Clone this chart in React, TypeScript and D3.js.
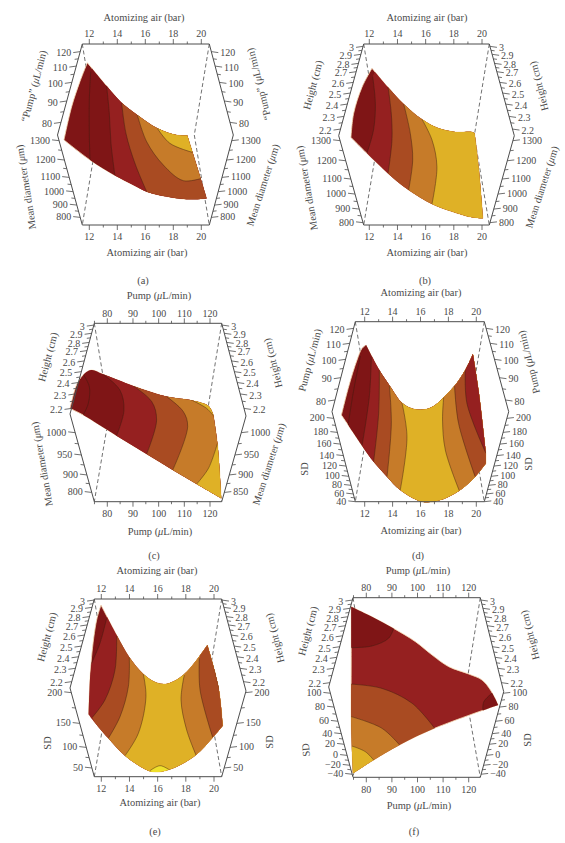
import React from "react";
import * as d3 from "d3";

type P = [number, number];

// ---------- axis tick values ----------
const airTicks = [12, 14, 16, 18, 20];
const pumpTicks = [80, 90, 100, 110, 120];
const pumpAxis = [120, 110, 100, 90, 80];
const heightAxis = [3, 2.9, 2.8, 2.7, 2.6, 2.5, 2.4, 2.3, 2.2];
const diameterAxis = [1300, 1200, 1100, 1000, 900, 800];
const diameterC = [1000, 950, 900, 800];
const diameterCRight = [1000, 950, 900, 850];
const sdAxisD = [200, 180, 160, 140, 120, 100, 80, 60, 40];
const sdAxisE = [200, 150, 100, 50];
const sdAxisF = [100, 80, 60, 40, 20, 0, -20, -40];

// ---------- surfaces: [horizontal factor value, share of plot height %] ----------
const surfaceA: P[][] = [
  [[11.86, 89.7], [13.24, 76.8], [14.31, 67.6], [15.43, 60.8], [16.86, 53.4], [18.24, 49.7], [19.0, 49.5]],
  [[19.0, 49.5], [19.38, 40.1], [19.95, 25.8], [20.38, 14.7]],
  [[20.38, 14.7], [18.95, 14.2], [17.52, 15.7], [16.1, 18.4], [15.14, 22.1], [13.83, 27.3], [12.05, 35.9], [10.19, 47.0]],
  [[10.19, 47.0], [10.74, 65.4], [11.33, 79.2], [11.86, 89.7]],
];
const contoursA: P[][] = [
  [[12.1, 84.7], [12.0, 69.1], [12.0, 50.6], [12.05, 35.9]],
  [[13.24, 76.8], [13.43, 61.7], [13.55, 45.1], [13.83, 27.3]],
  [[14.31, 67.6], [14.62, 50.6], [15.26, 34.1], [16.1, 18.4]],
  [[15.43, 60.8], [16.1, 46], [17.29, 33.1], [18.71, 24.5], [20.02, 25.8]],
  [[16.86, 53.4], [17.76, 45.1], [19.38, 40.1]],
];

const surfaceB: P[][] = [
  [[12.19, 86.6], [13.33, 76.1], [14.44, 66.9], [15.74, 58.4], [16.92, 53.4], [18.11, 51.4], [19.29, 51.4], [19.48, 50.6]],
  [[19.48, 50.6], [19.76, 32.2], [20.07, 3.7]],
  [[20.07, 3.7], [19.05, 4.6], [17.87, 7.4], [16.45, 11.6], [14.79, 19.3], [13.33, 28.5], [11.83, 39.6], [10.7, 48.4]],
  [[10.7, 48.4], [10.89, 61.7], [11.48, 76.1], [12.19, 86.6]],
];
const contoursB: P[][] = [
  [[12.24, 82], [12.43, 67.2], [12.3, 52.5], [11.83, 39.6]],
  [[13.33, 76.1], [13.56, 61.7], [13.61, 47], [13.33, 28.5]],
  [[14.44, 66.9], [14.91, 50.6], [15.08, 35.9], [14.79, 19.3]],
  [[15.74, 58.4], [16.45, 47], [16.8, 32.2], [16.45, 11.6]],
];

const surfaceC: P[][] = [
  [[65.5, 52.3], [68.3, 66.4], [71.3, 72], [73.9, 73.8], [78.4, 71.4], [90.1, 64.9], [103.1, 58.9], [113.5, 56.6], [119.4, 53.6], [121.3, 48.6]],
  [[121.3, 48.6], [122.9, 32.7], [124.4, 1.9]],
  [[124.4, 1.9], [114.8, 9.9], [105.5, 17.8], [95.3, 26.7], [83.6, 37], [70.6, 48.6], [65.5, 52.3]],
];
const contoursC: P[][] = [
  [[70.6, 71.4], [73, 64.5], [72.6, 55.1], [70.6, 48.6]],
  [[78.4, 71.4], [84.9, 62.6], [86.5, 51.4], [83.6, 37]],
  [[90.1, 64.9], [97.3, 56.1], [99.2, 45.8], [95.3, 26.7]],
  [[103.1, 58.9], [109.6, 50.5], [111.3, 42.1], [105.5, 17.8]],
  [[122.9, 32.7], [119.4, 18.7], [114.8, 9.9]],
  [[112.2, 57.4], [118.7, 52.3], [121.6, 47.7]],
];

const surfaceD: P[][] = [
  [[12.1, 87], [13.05, 73.1], [13.84, 63.9], [14.67, 55], [15.51, 51.5], [16.34, 51.3], [17.06, 53.7], [17.66, 58], [18.49, 64.8], [19.21, 73.1], [19.76, 82]],
  [[19.76, 82], [20.16, 62], [20.69, 26.9]],
  [[20.69, 26.9], [20.69, 21.3]],
  [[20.69, 21.3], [19.92, 13.9], [18.78, 6.1], [17.3, 0.6], [16.1, 0], [14.55, 6.5], [13.6, 13.9], [12.64, 22.2], [11.81, 31.1], [10.81, 42.6], [10.33, 48.1]],
  [[10.33, 48.1], [10.85, 63.9], [11.45, 78.7], [11.81, 85.2], [12.1, 87]],
];
const contoursD: P[][] = [
  [[11.69, 80.9], [11.21, 62], [10.81, 42.6]],
  [[12.48, 80.2], [12.33, 58.3], [11.81, 31.1]],
  [[13.05, 73.1], [13, 49.1], [12.64, 22.2]],
  [[13.77, 64.3], [13.91, 43.5], [13.6, 13.9]],
  [[14.67, 55], [15.03, 36.1], [14.55, 6.5]],
  [[17.66, 58], [17.58, 45.4], [17.78, 28.7], [18.78, 6.1]],
  [[18.44, 64.3], [18.73, 43.5], [19.92, 13.9]],
  [[19.21, 73.1], [19.33, 54.6], [20.69, 26.9]],
];

const surfaceE: P[][] = [
  [[11.98, 96.6], [13.09, 79.7], [13.99, 67.2], [14.98, 57.8], [15.93, 52.9], [16.76, 52.5], [17.82, 57.2], [18.77, 65.7], [19.53, 74.1]],
  [[19.53, 74.1], [20.31, 50.7], [20.62, 28.7]],
  [[20.62, 28.7], [19.91, 22.1], [18.72, 12.2], [17.35, 5.6], [16.4, 3], [15.93, 2.6], [15.34, 3.4], [13.68, 11.8], [12.5, 21.6], [11.31, 32.8], [11.1, 35.1]],
  [[11.1, 35.1], [11.15, 46.9], [11.31, 67.5], [11.67, 88.2], [11.98, 96.6]],
];
const contoursE: P[][] = [
  [[12.38, 89.1], [11.9, 75], [11.31, 63.8]],
  [[13.09, 79.2], [12.97, 60], [12.26, 43.2], [11.36, 33.4]],
  [[13.99, 67.2], [13.92, 50.7], [13.33, 33.8], [12.5, 21.6]],
  [[14.98, 57.8], [15.17, 45], [14.63, 24.4], [13.68, 11.8]],
  [[17.89, 57.2], [17.66, 43.2], [18.06, 26.3], [18.72, 12.2]],
  [[18.96, 66.6], [19.01, 48.8], [19.91, 22.1]],
  [[19.72, 71.3], [20.03, 60.8], [20.38, 48.8]],
  [[15.46, 3.4], [16.17, 6.2], [16.92, 3.4]],
];

const surfaceF: P[][] = [
  [[74.1, 95], [82.2, 89.4], [90.7, 82.9], [99.2, 75.5], [105.7, 68.1], [112.2, 61.6], [120, 57.5], [125.2, 54.2], [128.5, 48.6], [131.5, 40.3]],
  [[131.5, 40.3], [106.7, 27.3], [93, 18], [82.9, 9.6], [74.8, 2.2]],
  [[74.8, 2.2], [74.1, 28.2], [74.1, 65.3], [74.1, 95]],
];
const contoursF: P[][] = [
  [[74.1, 72.2], [82.2, 73.1], [88.7, 77.4], [90.7, 82.9]],
  [[129.1, 46.8], [125.9, 42.1], [125.5, 37.5]],
  [[74.1, 51.9], [86.1, 49.5], [97.9, 41.2], [106.7, 27.3]],
  [[74.1, 33.8], [86.1, 27.3], [93, 18]],
  [[74.4, 17.4], [79.6, 14.3], [82.9, 9.6]],
];

// ---------- styling ----------
const palette = {
  dark: "#7f1516",
  red: "#952020",
  brown: "#a94b22",
  orange: "#c67b29",
  yellow: "#dfb126",
  bright: "#efe02c",
};
type Lvl = keyof typeof palette;
type Corner = "TL" | "TR" | "BL" | "BR";
const R: Corner[] = ["BR", "TR"];
const UP: Corner[] = ["TR"];
const WRAP: Corner[] = ["BL", "BR", "TR"];

// tick positions along the hexagon's slanted axes, % of plot height (axes are non-linear)
const heightPctB = [98.7, 94.3, 89.3, 84.7, 78.8, 72.9, 66.8, 60, 53];
const heightPctC = [99, 94.4, 89.3, 84.7, 78.9, 72.9, 66.8, 60.4, 52.3];
const heightPctE = [99.4, 95.3, 90.1, 85.4, 79.7, 73.5, 67.5, 61, 53.5];
const heightPctF = [98.7, 94.1, 89.4, 84.4, 78.8, 72.7, 66.8, 60.7, 52.7];

interface Axis { values: number[]; pct: number[] }
interface Title { text: string; x: number; y: number; rotate: number }
interface Panel {
  id: string; top: number; bottom: number; x0: number; x1: number;
  lv: P; rv: P; x12: [number, number]; xDomain: [number, number];
  xTicks: number[]; xStep: number;
  ul: Axis; ll: Axis; ur: Axis; lr: Axis;
  surface: P[][]; base: Lvl;
  contours: { pts: P[]; lvl: Lvl; to: Corner[] }[];
  titles: Title[]; caption: [number, number];
  topTitle: string; bottomTitle: string; topTitleP: P; bottomTitleP: P;
}

const bands = (pts: P[][], lv: Lvl[], to: Corner[][]) => pts.map((p, i) => ({ pts: p, lvl: lv[i], to: to[i] || R }));

const panels: Panel[] = [
  {
    id: "a", top: 44, bottom: 225, x0: 82.3, x1: 209.3, lv: [57.5, 135], rv: [233.3, 135],
    x12: [89.3, 201.3], xDomain: [12, 20], xTicks: airTicks, xStep: 2,
    ul: { values: pumpAxis, pct: [95.8, 87.8, 78.8, 68.5, 56.7] },
    ur: { values: pumpAxis, pct: [95.8, 87.8, 78.8, 68.5, 56.7] },
    ll: { values: diameterAxis, pct: [46.6, 35.9, 26.3, 18.4, 11, 4.2] },
    lr: { values: diameterAxis, pct: [46.6, 35.9, 26.3, 18.4, 11, 4.2] },
    surface: surfaceA, base: "dark",
    contours: bands(contoursA, ["dark", "red", "brown", "orange", "yellow"], [R, R, R, UP, UP]),
    topTitle: "Atomizing air (bar)", bottomTitle: "Atomizing air (bar)", topTitleP: [144, 18], bottomTitleP: [147, 253],
    titles: [
      { text: "“Pump” (μL/min)", x: 34, y: 86, rotate: -75 },
      { text: "Mean diameter (μm)", x: 26, y: 187, rotate: -99 },
      { text: "“Pump” (μL/min)", x: 259, y: 84, rotate: -104 },
      { text: "Mean diameter (μm)", x: 263, y: 185, rotate: -72 },
    ],
    caption: [143, 281],
  },
  {
    id: "b", top: 44, bottom: 225, x0: 363.7, x1: 489.3, lv: [338.7, 135.7], rv: [514.3, 135.7],
    x12: [369.3, 482], xDomain: [12, 20], xTicks: airTicks, xStep: 2,
    ul: { values: heightAxis, pct: heightPctB }, ur: { values: heightAxis, pct: heightPctB },
    ll: { values: diameterAxis, pct: [46.6, 35.5, 25.4, 17.1, 8.8, 1.3] },
    lr: { values: diameterAxis, pct: [46.6, 35.5, 25.4, 17.1, 8.8, 1.3] },
    surface: surfaceB, base: "dark",
    contours: bands(contoursB, ["red", "brown", "orange", "yellow"], []),
    topTitle: "Atomizing air (bar)", bottomTitle: "Atomizing air (bar)", topTitleP: [427, 18], bottomTitleP: [427, 253],
    titles: [
      { text: "Height (cm)", x: 313, y: 85, rotate: -75 },
      { text: "Mean diameter (μm)", x: 307, y: 188, rotate: -100 },
      { text: "Height (cm)", x: 539, y: 86, rotate: -104 },
      { text: "Mean diameter (μm)", x: 542, y: 187, rotate: -72 },
    ],
    caption: [425, 281],
  },
  {
    id: "c", top: 323.3, bottom: 501.7, x0: 94.3, x1: 221.7, lv: [70, 414], rv: [246, 416],
    x12: [107.3, 210], xDomain: [80, 120], xTicks: pumpTicks, xStep: 10,
    ul: { values: heightAxis, pct: heightPctC }, ur: { values: heightAxis, pct: heightPctC },
    ll: { values: diameterC, pct: [38.7, 26.2, 15, 5.2] },
    lr: { values: diameterCRight, pct: [38.7, 26.2, 15, 5.2] },
    surface: surfaceC, base: "dark",
    contours: bands(contoursC, ["dark", "red", "brown", "orange", "yellow", "yellow"], [R, R, R, R, R, UP]),
    topTitle: "Pump (μL/min)", bottomTitle: "Pump (μL/min)", topTitleP: [159, 296], bottomTitleP: [160, 532],
    titles: [
      { text: "Height (cm)", x: 48, y: 357, rotate: -75 },
      { text: "Mean diameter (μm)", x: 42, y: 464, rotate: -100 },
      { text: "Height (cm)", x: 273, y: 363, rotate: -104 },
      { text: "Mean diameter (μm)", x: 269, y: 464, rotate: -72 },
    ],
    caption: [154, 556],
  },
  {
    id: "d", top: 321.7, bottom: 501.7, x0: 355.3, x1: 484.3, lv: [332, 411.7], rv: [508.7, 411.7],
    x12: [364.7, 476.3], xDomain: [12, 20], xTicks: airTicks, xStep: 2,
    ul: { values: pumpAxis, pct: [96.3, 88, 79.1, 68.9, 56.5] },
    ur: { values: pumpAxis, pct: [96.3, 88, 79.1, 68.9, 56.5] },
    ll: { values: sdAxisD, pct: [46.3, 38.5, 32, 25.6, 19.8, 14.1, 9.1, 4.3, 0] },
    lr: { values: sdAxisD, pct: [46.3, 38.5, 32, 25.6, 19.8, 14.1, 9.1, 4.3, 0] },
    surface: surfaceD, base: "dark",
    contours: bands(contoursD, ["dark", "red", "brown", "orange", "yellow", "orange", "brown", "red"], [R, R, R, R, R, R, R, UP]),
    topTitle: "Atomizing air (bar)", bottomTitle: "Atomizing air (bar)", topTitleP: [421, 293], bottomTitleP: [421, 531],
    titles: [
      { text: "Pump (μL/min)", x: 310, y: 360, rotate: -75 },
      { text: "SD", x: 305, y: 469, rotate: -90 },
      { text: "Pump (μL/min)", x: 529, y: 362, rotate: -104 },
      { text: "SD", x: 529, y: 464, rotate: -90 },
    ],
    caption: [418, 556],
  },
  {
    id: "e", top: 599, bottom: 776.7, x0: 94.3, x1: 221.7, lv: [70, 688], rv: [246, 691],
    x12: [101.3, 214], xDomain: [12, 20], xTicks: airTicks, xStep: 2,
    ul: { values: heightAxis, pct: heightPctE }, ur: { values: heightAxis, pct: heightPctE },
    ll: { values: sdAxisE, pct: [47.3, 30, 16.5, 4.9] },
    lr: { values: sdAxisE, pct: [47.3, 30, 16.5, 4.9] },
    surface: surfaceE, base: "dark",
    contours: bands(contoursE, ["red", "brown", "orange", "yellow", "orange", "brown", "dark", "bright"],
      [WRAP, R, R, R, R, R, UP, ["BR", "BL"]]),
    topTitle: "Atomizing air (bar)", bottomTitle: "Atomizing air (bar)", topTitleP: [157, 571], bottomTitleP: [160, 803],
    titles: [
      { text: "Height (cm)", x: 47, y: 637, rotate: -75 },
      { text: "SD", x: 48, y: 743, rotate: -90 },
      { text: "Height (cm)", x: 275, y: 638, rotate: -104 },
      { text: "SD", x: 270, y: 742, rotate: -90 },
    ],
    caption: [155, 832],
  },
  {
    id: "f", top: 597.7, bottom: 777.3, x0: 353, x1: 480.3, lv: [328.7, 687], rv: [503.7, 691.7],
    x12: [366.3, 468.7], xDomain: [80, 120], xTicks: pumpTicks, xStep: 10,
    ul: { values: heightAxis, pct: heightPctF }, ur: { values: heightAxis, pct: heightPctF },
    ll: { values: sdAxisF, pct: [46.8, 39.1, 31.2, 24.3, 18.4, 12.2, 6.7, 1.7] },
    lr: { values: sdAxisF, pct: [46.8, 39.1, 31.2, 24.3, 18.4, 12.2, 6.7, 1.7] },
    surface: surfaceF, base: "red",
    contours: bands(contoursF, ["dark", "dark", "brown", "orange", "yellow"],
      [["TL"], R, ["BL"], ["BL"], ["BL"]]),
    topTitle: "Pump (μL/min)", bottomTitle: "Pump (μL/min)", topTitleP: [418, 571], bottomTitleP: [419, 806],
    titles: [
      { text: "Height (cm)", x: 308, y: 631, rotate: -75 },
      { text: "SD", x: 306, y: 750, rotate: -96 },
      { text: "Height (cm)", x: 530, y: 635, rotate: -104 },
      { text: "SD", x: 528, y: 740, rotate: -90 },
    ],
    caption: [414, 832],
  },
];

const FONT = "'Liberation Serif', serif";
const INK = "#4a4a4a";
const LINE = "#4d4d4d";
const FS = 10.4;
const TICK_FS = 10;

function Rich({ text }: { text: string }) {
  const parts = text.split("μ");
  return (
    <>
      {parts.map((p, i) => (
        <React.Fragment key={i}>
          {i > 0 && <tspan fontStyle="italic">μ</tspan>}
          {p}
        </React.Fragment>
      ))}
    </>
  );
}

function fmt(v: number) {
  return v < 0 ? "−" + Math.abs(v) : String(v);
}

function SlantAxis({ axis, yS, from, to, dir, tilt }: {
  axis: Axis; yS: d3.ScaleLinear<number, number>; from: P; to: P; dir: -1 | 1; tilt: number;
}) {
  const xAt = d3.scaleLinear().domain([from[1], to[1]]).range([from[0], to[0]]);
  const majors = axis.pct.map((p, i) => ({ y: yS(p), v: axis.values[i] }));
  const minors: number[] = [];
  for (let i = 0; i < axis.pct.length - 1; i++) minors.push(yS((axis.pct[i] + axis.pct[i + 1]) / 2));
  return (
    <g>
      <line x1={from[0]} y1={from[1]} x2={to[0]} y2={to[1]} stroke={LINE} strokeWidth={1} />
      {minors.map((y, i) => (
        <line key={i} x1={xAt(y)} y1={y} x2={xAt(y) + dir * 3.6} y2={y + tilt * 0.5} stroke={LINE} strokeWidth={0.8} />
      ))}
      {majors.map(({ y, v }) => (
        <g key={v}>
          <line x1={xAt(y)} y1={y} x2={xAt(y) + dir * 7} y2={y + tilt} stroke={LINE} strokeWidth={0.8} />
          <text x={xAt(y) + dir * 9} y={y + 0.5 + tilt} dy="0.33em" textAnchor={dir < 0 ? "end" : "start"}
            fontSize={TICK_FS} fill={INK} fontFamily={FONT}>{fmt(v)}</text>
        </g>
      ))}
    </g>
  );
}

function PanelView({ p }: { p: Panel }) {
  const x = d3.scaleLinear().domain(p.xDomain).range(p.x12);
  const y = d3.scaleLinear().domain([0, 100]).range([p.bottom, p.top]);
  const line = d3.line<P>().x((d) => x(d[0])).y((d) => y(d[1])).curve(d3.curveCatmullRom.alpha(0.5));
  const outline = p.surface.map((e, i) => (line(e) as string).replace(/^M/, i ? "L" : "M")).join("") + "Z";
  const far = {
    TL: [p.lv[0] - 60, p.top - 400], TR: [p.rv[0] + 60, p.top - 400],
    BL: [p.lv[0] - 60, p.bottom + 400], BR: [p.rv[0] + 60, p.bottom + 400],
  };
  const minor: number[] = [];
  const lo = x.invert(p.x0), hi = x.invert(p.x1);
  for (const t of p.xTicks) {
    for (const m of [t - p.xStep / 2, t + p.xStep / 2]) if (m >= lo && m <= hi && !minor.includes(m)) minor.push(m);
  }
  const inset = 15;
  const dashes: [P, P][] = [
    [[p.x0, p.top], [p.x0 + inset, p.lv[1]]],
    [[p.x0 + inset, p.lv[1]], [p.x0, p.bottom]],
    [[p.x1, p.top], [p.x1 - inset, p.rv[1]]],
    [[p.x1 - inset, p.rv[1]], [p.x1, p.bottom]],
  ];
  return (
    <g>
      <clipPath id={"clip-" + p.id}><path d={outline} /></clipPath>
      {dashes.map((d, i) => (
        <line key={i} x1={d[0][0]} y1={d[0][1]} x2={d[1][0]} y2={d[1][1]} stroke="#333" strokeWidth={0.7} strokeDasharray="4 2.6" />
      ))}
      <path d={outline} fill={palette[p.base]} stroke="#f8dcb4" strokeWidth={0.8} strokeLinejoin="round" />
      <g clipPath={`url(#clip-${p.id})`}>
        {p.contours.map((c, i) => {
          const l = line(c.pts) as string;
          const tail = c.to.map((k) => `L${far[k][0]},${far[k][1]}`).join("");
          return <path key={i} d={l + tail + "Z"} fill={palette[c.lvl]} />;
        })}
        {p.contours.map((c, i) => (
          <path key={i} d={line(c.pts) as string} fill="none" stroke="#3a1c10" strokeOpacity={0.75} strokeWidth={0.6} />
        ))}
      </g>

      {/* frame */}
      <line x1={p.x0} y1={p.top} x2={p.x1} y2={p.top} stroke={LINE} strokeWidth={1} />
      <line x1={p.x0} y1={p.bottom} x2={p.x1} y2={p.bottom} stroke={LINE} strokeWidth={1} />
      <SlantAxis axis={p.ul} yS={y} from={[p.x0, p.top]} to={p.lv} dir={-1} tilt={1} />
      <SlantAxis axis={p.ll} yS={y} from={p.lv} to={[p.x0, p.bottom]} dir={-1} tilt={-0.8} />
      <SlantAxis axis={p.ur} yS={y} from={[p.x1, p.top]} to={p.rv} dir={1} tilt={1} />
      <SlantAxis axis={p.lr} yS={y} from={p.rv} to={[p.x1, p.bottom]} dir={1} tilt={-0.8} />

      {/* horizontal ticks */}
      {minor.map((m) => (
        <g key={m}>
          <line x1={x(m)} x2={x(m)} y1={p.top} y2={p.top - 2.5} stroke={LINE} strokeWidth={0.8} />
          <line x1={x(m)} x2={x(m)} y1={p.bottom} y2={p.bottom + 2.5} stroke={LINE} strokeWidth={0.8} />
        </g>
      ))}
      {p.xTicks.map((t) => (
        <g key={t}>
          <line x1={x(t)} x2={x(t)} y1={p.top} y2={p.top - 5} stroke={LINE} strokeWidth={0.8} />
          <line x1={x(t)} x2={x(t)} y1={p.bottom} y2={p.bottom + 5} stroke={LINE} strokeWidth={0.8} />
          <text x={x(t)} y={p.top - 10} dy="0.33em" textAnchor="middle" fontSize={TICK_FS} fill={INK} fontFamily={FONT}>{t}</text>
          <text x={x(t)} y={p.bottom + 12} dy="0.33em" textAnchor="middle" fontSize={TICK_FS} fill={INK} fontFamily={FONT}>{t}</text>
        </g>
      ))}

      {/* titles */}
      <text x={p.topTitleP[0]} y={p.topTitleP[1]} dy="0.33em" textAnchor="middle" fontSize={FS} fill={INK} fontFamily={FONT}><Rich text={p.topTitle} /></text>
      <text x={p.bottomTitleP[0]} y={p.bottomTitleP[1]} dy="0.33em" textAnchor="middle" fontSize={FS} fill={INK} fontFamily={FONT}><Rich text={p.bottomTitle} /></text>
      {p.titles.map((t, i) => (
        <text key={i} transform={`translate(${t.x},${t.y}) rotate(${t.rotate})`} dy="0.33em" textAnchor="middle"
          fontSize={FS} fill={INK} fontFamily={FONT}><Rich text={t.text} /></text>
      ))}
      <text x={p.caption[0]} y={p.caption[1]} dy="0.33em" textAnchor="middle" fontSize={FS} fill={INK} fontFamily={FONT}>({p.id})</text>
    </g>
  );
}

export default function App() {
  return (
    <svg width={565} height={843} viewBox="0 0 565 843"
      style={{ position: "absolute", left: 0, top: 0, background: "#fff", display: "block" }}>
      {panels.map((p) => <PanelView key={p.id} p={p} />)}
    </svg>
  );
}
